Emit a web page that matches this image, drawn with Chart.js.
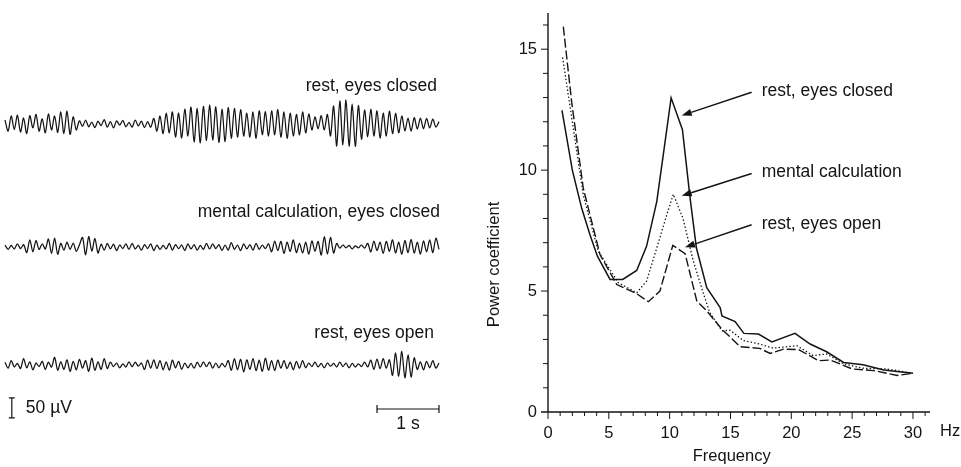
<!DOCTYPE html>
<html>
<head>
<meta charset="utf-8">
<script src="https://cdn.jsdelivr.net/npm/chart.js@4.4.1/dist/chart.umd.min.js"></script>
<style>
  html, body { margin: 0; padding: 0; background: #fff; }
  #wrap { position: relative; width: 961px; height: 467px; overflow: hidden; }
  #eeg { position: absolute; left: 0; top: 0; }
  #spec { position: absolute; left: 450px; top: 0; }
</style>
</head>
<body>
<div id="wrap">
  <canvas id="eeg" width="450" height="467"></canvas>
  <canvas id="spec" width="511" height="467"></canvas>
</div>
<script>
// ==========================
//  DATA
// ==========================
// EEG traces, µV, one value every 0.05 s (7 s)
const eegStep = 0.05;
const eegRestClosed = [
  10, -18, 20, -14, 22, -20, 15, -24, 21, -10, 24, -18, 13, -22, 25, -15, 20, -21,
  30, -24, 32, -26, 18, -15,
  8, -6, 10, -7, 5, -9, 7, -4, 11, -8, 6, -10, 8, -3, 9, -7, 4, -8, 10, -5, 7, -9, 6, -8,
  14, -18, 20, -24, 27, -22, 30, -33, 28, -35, 37, -30,
  42, -45, 39, -47, 44, -41, 48, -40, 43, -46, 37, -44, 41, -36, 39,
  -33, 36, -30, 27, -33, 30, -36, 33, -27, 31,
  -30, 33, -27, 36, -33, 30, -36, 27, -30, 24, -27, 30, -22, 25,
  -15, 18, -12, 21, -15, 24, -30,
  45, -55, 58, -52, 60, -55, 50, -56, 46,
  -38, 35, -32, 37, -30, 33, -35, 27, -30, 32, -24, 27, -22,
  20, -17, 15, -18, 16, -13, 15, -12, 14, -10, 12, -8, 6
];
const eegMental = [
  5, -6, 4, -5, 8, -4, 6,
  -14, 18, -12, 16,
  -6, 8, -5,
  20, -16, 22, -18, 9,
  -8, 12, -6, 10, -11, 5,
  24, -20, 26, -10, 21, -15, 7,
  -8, 9, -5, 7, -9, 5, -4, 8, -6, 9, -5, 4, -8, 6, -4, 8, -9, 5, -6, 4, -5, 9, -8, 6, -4, 5, -9,
  8, -5, 6, -8, 4, -6, 9, -5, 8, -4, 6, -9, 5, -8, 11, -6, 5, -9, 8, -5, 6, -8, 9, -6, 5, -4, 8,
  -12, 15, -9, 14, -16, 12, -11, 18, -14, 9, -15, 12, -18, 15, -11, 14,
  -20, 26, -18, 24, -15, 9,
  -3, 5, -2, 4, -5, 3, -2, 5, -3,
  9, -12, 15, -9, 12, -16, 14, -11, 18, -15, 12, -18, 16, -14, 19, -15, 12, -18, 15, -12, 18, -14, 22, -6
];
const eegRestOpen = [
  7, -8, 11, -5, 4, -9, 16, -7, 8, -12, 5, -4, 9, -11, 7, -5, 19, -13, 8,
  -11, 13, -16, 9, -12, 14, -8, 11, -16, 17, -13, 8, -11, 16, -9, 7,
  -4, 5, -7, 3, -5, 8, -4, 7, -3, 5,
  -11, 12, -8, 13, -9, 11, -12, 8, -13, 12, -7, 9, -11,
  5, -7, 4, -8, 7, -5, 8, -4, 7, -8, 5, -7, 4, -5,
  11, -13, 16, -12, 14, -17, 13, -11, 16, -14, 12, -16, 17, -13, 11, -14, 12,
  -8, 11, -9, 7, -12, 9, -8, 11, -7,
  5, -4, 7, -5, 4, -7, 5, -3, 4, -5, 7, -4, 5, -7, 4, -5, 3, -4, 7, -5,
  12, -11, 15, -9, 16, -8, 13,
  -26, 30, -28, 34, -32, 25, -30, 18,
  -11, 8, -12, 9, -7, 11, -8, 5
];
const eegLabels = ['rest, eyes closed', 'mental calculation, eyes closed', 'rest, eyes open'];

// power spectra
const freqClosed = [1.15, 2.0, 2.77, 3.45, 4.06, 5.1, 6.14, 7.29, 8.1, 8.94, 9.62, 10.12, 11.05, 11.68, 12.2, 13.05, 14.15, 14.3, 15.38, 16.1, 17.3, 18.4, 20.3, 21.55, 22.9, 24.3, 25.9, 27.6, 30];
const powerClosed = [12.47, 10.0, 8.42, 7.33, 6.44, 5.48, 5.48, 5.85, 6.85, 8.7, 11.16, 12.99, 11.67, 8.84, 6.78, 5.14, 4.32, 3.97, 3.74, 3.25, 3.22, 2.9, 3.25, 2.81, 2.49, 2.05, 1.95, 1.74, 1.6];
const freqCalc = [1.2, 1.8, 2.9, 4.14, 5.78, 7.3, 8.1, 8.94, 9.76, 10.3, 11.1, 11.95, 12.8, 13.3, 14.3, 14.97, 16.07, 17.4, 18.5, 20.45, 21.8, 22.9, 24.3, 25.9, 27.86, 30];
const powerCalc = [14.66, 12.67, 8.97, 6.64, 5.34, 4.93, 5.41, 6.78, 8.15, 9.0, 8.0, 6.23, 4.86, 4.11, 3.36, 3.38, 2.95, 2.81, 2.64, 2.74, 2.33, 2.4, 1.99, 1.81, 1.78, 1.6];
const freqOpen = [1.26, 1.95, 2.9, 4.28, 5.65, 7.3, 8.25, 9.2, 10.26, 11.27, 12.23, 13.05, 14.3, 15.8, 17.4, 18.26, 19.36, 20.6, 22.24, 23.2, 25.0, 26.8, 28.7, 30];
const powerOpen = [15.93, 12.8, 9.25, 6.5, 5.27, 4.89, 4.56, 5.0, 6.89, 6.55, 4.59, 4.18, 3.42, 2.7, 2.63, 2.42, 2.6, 2.58, 2.12, 2.15, 1.78, 1.71, 1.51, 1.6];
const spectrumLabels = ['rest, eyes closed', 'mental calculation', 'rest, eyes open'];

// ==========================
//  STYLE
// ==========================
const INK = '#141414';
const FONT = '"Liberation Sans", Arial, sans-serif';
Chart.defaults.font.family = FONT;
Chart.defaults.color = INK;

// ==========================
//  LEFT: EEG TRACES
// ==========================
const traceBase = [857.5, 550, 255]; // baseline of each trace on the µV axis

function toPoints(vals, base) {
  return vals.map((v, i) => ({ x: i * eegStep, y: base + v }));
}

const eegDecor = {
  id: 'eegDecor',
  afterDatasetsDraw(chart) {
    const { ctx, scales: { x, y } } = chart;
    ctx.save();
    ctx.fillStyle = INK;
    ctx.strokeStyle = INK;
    ctx.font = '17.5px ' + FONT;
    ctx.textAlign = 'right';
    ctx.textBaseline = 'middle';
    const labelRight = [437, 440, 434];
    const labelMid = [86, 212, 333];
    eegLabels.forEach((t, i) => ctx.fillText(t, labelRight[i], labelMid[i]));

    // 50 µV bar
    ctx.lineWidth = 1.2;
    const bx = x.getPixelForValue(0.11);
    const bTop = y.getPixelForValue(173), bBot = y.getPixelForValue(123);
    ctx.beginPath();
    ctx.moveTo(bx, bTop); ctx.lineTo(bx, bBot);
    ctx.moveTo(bx - 3, bTop); ctx.lineTo(bx + 3, bTop);
    ctx.moveTo(bx - 3, bBot); ctx.lineTo(bx + 3, bBot);
    ctx.stroke();
    ctx.textAlign = 'left';
    ctx.fillText('50 µV', bx + 14, (bTop + bBot) / 2);

    // 1 s bar
    const s0 = x.getPixelForValue(6), s1 = x.getPixelForValue(7);
    const sy = y.getPixelForValue(145);
    ctx.beginPath();
    ctx.moveTo(s0, sy); ctx.lineTo(s1, sy);
    ctx.moveTo(s0, sy - 4); ctx.lineTo(s0, sy + 4);
    ctx.moveTo(s1, sy - 4); ctx.lineTo(s1, sy + 4);
    ctx.stroke();
    ctx.textAlign = 'center';
    ctx.fillText('1 s', (s0 + s1) / 2, sy + 15);
    ctx.restore();
  }
};

new Chart(document.getElementById('eeg'), {
  type: 'line',
  data: {
    datasets: [eegRestClosed, eegMental, eegRestOpen].map((vals, i) => ({
      label: eegLabels[i],
      data: toPoints(vals, traceBase[i]),
      borderColor: INK,
      borderWidth: 1.25,
      pointRadius: 0,
      tension: 0.3,
      fill: false
    }))
  },
  options: {
    responsive: false,
    animation: false,
    layout: { padding: 0 },
    plugins: { legend: { display: false }, tooltip: { enabled: false } },
    scales: {
      x: { type: 'linear', display: false, min: -5 / 62, max: 445 / 62 },
      y: { type: 'linear', display: false, min: 0, max: 467 / 0.4 }
    }
  },
  plugins: [eegDecor]
});

// ==========================
//  RIGHT: POWER SPECTRA
// ==========================
const arrows = [
  { from: [16.74, 13.22], to: [10.99, 12.26] },
  { from: [16.74, 9.86], to: [10.99, 8.94] },
  { from: [16.74, 7.74], to: [11.26, 6.81] }
];

const specDecor = {
  id: 'specDecor',
  afterDraw(chart) {
    const { ctx, chartArea: a, scales: { x, y } } = chart;
    ctx.save();
    ctx.strokeStyle = INK;
    ctx.fillStyle = INK;

    // axes
    ctx.lineWidth = 1.4;
    ctx.beginPath();
    ctx.moveTo(a.left, a.top); ctx.lineTo(a.left, a.bottom);
    ctx.moveTo(a.left - 7, a.bottom); ctx.lineTo(a.right, a.bottom);
    ctx.stroke();

    // ticks
    ctx.lineWidth = 1;
    ctx.beginPath();
    for (let f = 0; f <= 31; f++) {
      const px = x.getPixelForValue(f);
      ctx.moveTo(px, a.bottom); ctx.lineTo(px, a.bottom + (f % 5 === 0 ? 7 : 4));
    }
    for (let p = 1; p <= 16; p++) {
      const py = y.getPixelForValue(p);
      ctx.moveTo(a.left, py); ctx.lineTo(a.left - (p % 5 === 0 ? 7 : 5), py);
    }
    ctx.stroke();

    // axis titles
    ctx.font = '16.5px ' + FONT;
    ctx.textBaseline = 'middle';
    ctx.textAlign = 'left';
    ctx.fillText('Hz', x.getPixelForValue(30) + 27, a.bottom + 19);
    ctx.textAlign = 'center';
    ctx.fillText('Frequency', x.getPixelForValue(15.1), a.bottom + 44);
    ctx.save();
    ctx.translate(a.left - 54, y.getPixelForValue(6.1));
    ctx.rotate(-Math.PI / 2);
    ctx.fillText('Power coefficient', 0, 0);
    ctx.restore();

    // arrows and labels
    ctx.font = '17.5px ' + FONT;
    ctx.textAlign = 'left';
    ctx.lineWidth = 1.4;
    arrows.forEach((ar, i) => {
      const x0 = x.getPixelForValue(ar.from[0]), y0 = y.getPixelForValue(ar.from[1]);
      const x1 = x.getPixelForValue(ar.to[0]), y1 = y.getPixelForValue(ar.to[1]);
      const ang = Math.atan2(y1 - y0, x1 - x0);
      const hl = 10, hw = 3.6;
      const bx = x1 - hl * Math.cos(ang), by = y1 - hl * Math.sin(ang);
      ctx.beginPath();
      ctx.moveTo(x0, y0); ctx.lineTo(bx, by);
      ctx.stroke();
      ctx.beginPath();
      ctx.moveTo(x1, y1);
      ctx.lineTo(bx + hw * Math.sin(ang), by - hw * Math.cos(ang));
      ctx.lineTo(bx - hw * Math.sin(ang), by + hw * Math.cos(ang));
      ctx.closePath();
      ctx.fill();
      ctx.fillText(spectrumLabels[i], x0 + 10, y0 - 1);
    });
    ctx.restore();
  }
};

function pairs(fx, py) {
  return fx.map((f, i) => ({ x: f, y: py[i] }));
}

new Chart(document.getElementById('spec'), {
  type: 'line',
  data: {
    datasets: [
      { label: spectrumLabels[0], data: pairs(freqClosed, powerClosed), borderColor: INK, borderWidth: 1.5, pointRadius: 0, tension: 0 },
      { label: spectrumLabels[1], data: pairs(freqCalc, powerCalc), borderColor: INK, borderWidth: 1.3, borderDash: [1.4, 2.2], pointRadius: 0, tension: 0 },
      { label: spectrumLabels[2], data: pairs(freqOpen, powerOpen), borderColor: INK, borderWidth: 1.4, borderDash: [9, 3], pointRadius: 0, tension: 0 }
    ]
  },
  options: {
    responsive: false,
    animation: false,
    layout: { padding: { left: 62, right: 31, top: 10, bottom: 25 } },
    plugins: { legend: { display: false }, tooltip: { enabled: false } },
    scales: {
      x: {
        type: 'linear', min: 0, max: 31.4,
        grid: { display: false }, border: { display: false },
        ticks: { stepSize: 5, includeBounds: false, maxRotation: 0, padding: 4, font: { size: 16.5 }, color: INK },
        afterFit: s => { s.height = 30; }
      },
      y: {
        type: 'linear', min: 0, max: 16.5,
        grid: { display: false }, border: { display: false },
        ticks: { stepSize: 5, includeBounds: false, padding: 3, font: { size: 16.5 }, color: INK },
        afterFit: s => { s.width = 36; }
      }
    }
  },
  plugins: [specDecor]
});
</script>
</body>
</html>
